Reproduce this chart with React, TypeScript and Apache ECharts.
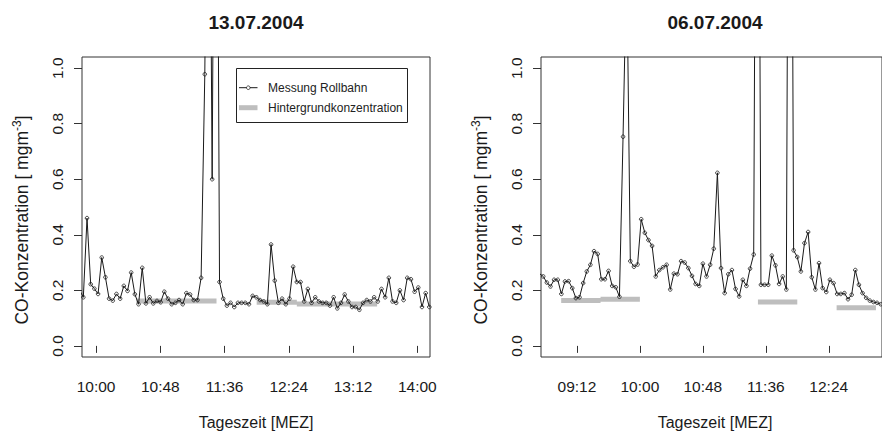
import { useEffect, useRef } from "react";
import * as echarts from "echarts";

const FONT = '"Liberation Sans", Arial, Helvetica, sans-serif';

// ---- Panel 1: 13.07.2004 ----
const LEFT_TITLE = "13.07.2004";
const LEFT_START = "09:47:45";
const LEFT_STEP_S = 165;
const LEFT_XLIM = ["09:49:30", "14:09:30"];
const LEFT_TICKS = ["10:00", "10:48", "11:36", "12:24", "13:12", "14:00"];
const LEFT_CO = [
  0.2,
  0.175, 0.46, 0.222, 0.206, 0.187, 0.318, 0.247, 0.17, 0.163, 0.187,
  0.17, 0.216, 0.198, 0.264, 0.186, 0.15, 0.281, 0.153, 0.175, 0.153,
  0.162, 0.157, 0.195, 0.17, 0.15, 0.155, 0.165, 0.15, 0.19, 0.185,
  0.165, 0.165, 0.245, 0.978, 2.5, 0.6, 3.0, 0.23, 0.17, 0.145,
  0.155, 0.14, 0.155, 0.155, 0.155, 0.15, 0.18, 0.175, 0.165, 0.16,
  0.15, 0.365, 0.235, 0.155, 0.17, 0.15, 0.17, 0.285, 0.23, 0.23,
  0.16, 0.205, 0.155, 0.175, 0.16, 0.155, 0.155, 0.145, 0.175, 0.135,
  0.155, 0.185, 0.16, 0.14, 0.14, 0.13, 0.155, 0.165, 0.16, 0.175,
  0.16, 0.205, 0.175, 0.245, 0.16, 0.155, 0.2, 0.165, 0.245, 0.24,
  0.195, 0.21, 0.14, 0.19, 0.14,
];
// background level: [from, to, mg/m3]
const LEFT_BACKGROUND: [string, string, number][] = [
  ["10:30", "11:30", 0.162],
  ["12:00", "12:30", 0.157],
  ["12:30", "13:30", 0.151],
];

// ---- Panel 2: 06.07.2004 ----
const RIGHT_TITLE = "06.07.2004";
const RIGHT_START = "08:43:32";
const RIGHT_STEP_S = 166;
const RIGHT_XLIM = ["08:44:36", "13:04:36"];
const RIGHT_TICKS = ["09:12", "10:00", "10:48", "11:36", "12:24"];
const RIGHT_CO = [
  0.26,
  0.25, 0.228, 0.214, 0.238, 0.238, 0.187, 0.232, 0.233, 0.208, 0.172,
  0.175, 0.226, 0.268, 0.292, 0.341, 0.331, 0.24, 0.24, 0.27, 0.216,
  0.211, 0.177, 0.753, 1.4, 0.305, 0.285, 0.293, 0.456, 0.407, 0.381,
  0.36, 0.25, 0.273, 0.283, 0.292, 0.203, 0.26, 0.258, 0.305, 0.3,
  0.28, 0.252, 0.223, 0.216, 0.296, 0.25, 0.292, 0.35, 0.623, 0.28,
  0.19, 0.258, 0.273, 0.205, 0.178, 0.238, 0.216, 0.278, 0.329, 3.3,
  0.22, 0.22, 0.22, 0.325, 0.29, 0.223, 0.25, 0.203, 3.5, 0.344,
  0.32, 0.268, 0.37, 0.41, 0.247, 0.203, 0.298, 0.208, 0.194, 0.238,
  0.226, 0.187, 0.187, 0.19, 0.168, 0.184, 0.273, 0.22, 0.19, 0.173,
  0.163, 0.158, 0.155, 0.15,
];
const RIGHT_BACKGROUND: [string, string, number][] = [
  ["09:00", "09:30", 0.163],
  ["09:30", "10:00", 0.168],
  ["11:30", "12:00", 0.158],
  ["12:30", "13:00", 0.137],
];

const Y_TICKS = [0, 0.2, 0.4, 0.6, 0.8, 1.0];
const Y_LIM = [-0.04, 1.04];

const X_TITLE = "Tageszeit [MEZ]";
const LEGEND_LINE = "Messung Rollbahn";
const LEGEND_BG = "Hintergrundkonzentration";

const INK = "#1a1a1a";
const BG_GREY = "#bebebe";

function toMin(hhmm: string): number {
  const [h, m, s] = hhmm.split(":").map(Number);
  return h * 60 + m + (s || 0) / 60;
}

function fmtTime(v: number): string {
  const t = Math.round(v);
  const h = Math.floor(t / 60);
  const m = t % 60;
  return `${String(h).padStart(2, "0")}:${String(m).padStart(2, "0")}`;
}

function measurementData(start: string, stepS: number, values: number[]) {
  const t0 = toMin(start);
  return values.map((v, i) => [t0 + (i * stepS) / 60, v]);
}

function backgroundData(segs: [string, string, number][]) {
  const out: (number | string)[][] = [];
  segs.forEach(([a, b, v]) => {
    out.push([toMin(a), v], [toMin(b), v], [toMin(b), "-"]);
  });
  return out;
}

const PANELS = [
  { left: 82, title: LEFT_TITLE, start: LEFT_START, step: LEFT_STEP_S, xlim: LEFT_XLIM, ticks: LEFT_TICKS, co: LEFT_CO, bg: LEFT_BACKGROUND },
  { left: 541, title: RIGHT_TITLE, start: RIGHT_START, step: RIGHT_STEP_S, xlim: RIGHT_XLIM, ticks: RIGHT_TICKS, co: RIGHT_CO, bg: RIGHT_BACKGROUND },
];

const GRID_TOP = 57;
const GRID_W = 348;
const GRID_H = 300;

export default function App() {
  const ref = useRef<HTMLDivElement>(null);

  useEffect(() => {
    document.body.style.margin = "0";
    if (!ref.current) return;
    const chart = echarts.init(ref.current, undefined, { renderer: "svg" });

    const grid = PANELS.map((p) => ({
      left: p.left,
      top: GRID_TOP,
      width: GRID_W,
      height: GRID_H,
      show: true,
      borderColor: "#333",
      borderWidth: 1,
      backgroundColor: "transparent",
    }));

    const xAxis = PANELS.map((p, i) => {
      const tv = p.ticks.map(toMin);
      return {
        type: "value",
        gridIndex: i,
        min: toMin(p.xlim[0]),
        max: toMin(p.xlim[1]),
        offset: 2,
        axisLine: { show: false },
        axisTick: { show: true, length: 7, customValues: tv, lineStyle: { color: "#333", width: 1 } },
        axisLabel: {
          customValues: tv,
          formatter: (v: number) => fmtTime(v),
          margin: 19,
          fontSize: 15.5,
          fontFamily: FONT,
          color: INK,
        },
        splitLine: { show: false },
      };
    });

    const yAxis = PANELS.map((_, i) => ({
      type: "value",
      gridIndex: i,
      min: Y_LIM[0],
      max: Y_LIM[1],
      axisLine: { show: false },
      axisTick: { show: true, length: 8, customValues: Y_TICKS, lineStyle: { color: "#333", width: 1 } },
      axisLabel: {
        customValues: Y_TICKS,
        rotate: 90,
        formatter: (v: number) => v.toFixed(1),
        margin: 17,
        fontSize: 15.5,
        fontFamily: FONT,
        color: INK,
      },
      splitLine: { show: false },
    }));

    const series: any[] = [];
    PANELS.forEach((p, i) => {
      series.push({
        type: "line",
        name: LEGEND_BG,
        xAxisIndex: i,
        yAxisIndex: i,
        data: backgroundData(p.bg),
        symbol: "none",
        connectNulls: false,
        lineStyle: { color: BG_GREY, width: 5, cap: "butt" },
        z: 2,
        silent: true,
      });
      series.push({
        type: "line",
        name: LEGEND_LINE,
        xAxisIndex: i,
        yAxisIndex: i,
        data: measurementData(p.start, p.step, p.co),
        symbol: "circle",
        symbolSize: 3.6,
        showSymbol: true,
        showAllSymbol: true,
        clip: true,
        itemStyle: { color: "rgba(0,0,0,0)", borderColor: INK, borderWidth: 0.8 },
        lineStyle: { color: INK, width: 1 },
        z: 3,
        silent: true,
      });
    });

    const graphic: any[] = [];
    PANELS.forEach((p) => {
      const cx = p.left + GRID_W / 2;
      graphic.push({
        type: "text",
        x: cx,
        y: 22,
        style: { text: p.title, fontSize: 19, fontWeight: "bold", fontFamily: FONT, fill: INK, align: "center", verticalAlign: "middle" },
      });
      graphic.push({
        type: "text",
        x: cx,
        y: 422,
        style: { text: X_TITLE, fontSize: 16, fontFamily: FONT, fill: INK, align: "center", verticalAlign: "middle" },
      });
      graphic.push({
        type: "text",
        x: p.left - 60,
        y: 220,
        rotation: Math.PI / 2,
        style: {
          text: "{a|CO-Konzentration [ mgm}{b|-3}{a|]}",
          align: "center",
          verticalAlign: "middle",
          rich: {
            a: { fontSize: 17.5, fontFamily: FONT, fill: INK, lineHeight: 22 },
            b: { fontSize: 12, fontFamily: FONT, fill: INK, lineHeight: 8, verticalAlign: "top" },
          },
        },
      });
    });

    // legend box in the first panel
    const lx = 236.5;
    const ly = 68.5;
    graphic.push(
      { type: "rect", shape: { x: lx, y: ly, width: 171, height: 54 }, style: { fill: "#fff", stroke: "#222", lineWidth: 1 }, z: 10 },
      { type: "line", shape: { x1: lx + 2.5, y1: 87.7, x2: lx + 21, y2: 87.7 }, style: { stroke: INK, lineWidth: 1 }, z: 11 },
      { type: "circle", shape: { cx: lx + 11.8, cy: 87.7, r: 1.8 }, style: { fill: "#fff", stroke: INK, lineWidth: 0.8 }, z: 12 },
      { type: "text", x: lx + 31.5, y: 87.7, style: { text: LEGEND_LINE, fontSize: 12, fontFamily: FONT, fill: "#222", align: "left", verticalAlign: "middle" }, z: 11 },
      { type: "line", shape: { x1: lx + 2.5, y1: 107.7, x2: lx + 21, y2: 107.7 }, style: { stroke: BG_GREY, lineWidth: 5 }, z: 11 },
      { type: "text", x: lx + 31.5, y: 107.7, style: { text: LEGEND_BG, fontSize: 12, fontFamily: FONT, fill: "#222", align: "left", verticalAlign: "middle" }, z: 11 }
    );

    chart.setOption({
      animation: false,
      backgroundColor: "#fff",
      grid,
      xAxis,
      yAxis,
      series,
      graphic,
    });

    return () => chart.dispose();
  }, []);

  return <div ref={ref} style={{ width: 882, height: 431 }} />;
}
